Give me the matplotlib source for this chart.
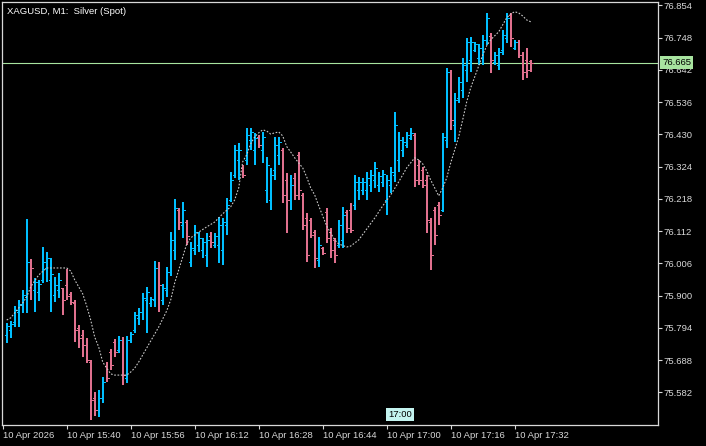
import matplotlib
matplotlib.use('Agg')
import matplotlib.pyplot as plt
import matplotlib.transforms as mtransforms
import numpy as np

plt.rcParams['font.family'] = ['Liberation Sans', 'DejaVu Sans']

# ---------------- data (XAGUSD M1, 15:25 .. 17:36) ----------------
opens = [75.771, 75.787, 75.814, 75.846, 75.869, 75.896, 76.011, 75.919, 75.912, 75.952,
         75.991, 75.952, 75.902, 75.919, 75.925, 75.935, 75.906, 75.876, 75.794, 75.771,
         75.738, 75.682, 75.564, 75.524, 75.564, 75.669, 75.715, 75.748, 75.722, 75.754,
         75.630, 75.754, 75.787, 75.827, 75.846, 75.886, 75.876, 75.886, 75.991, 75.886,
         75.919, 75.978, 76.050, 76.182, 76.132, 76.142, 76.011, 76.050, 76.067, 76.050,
         76.034, 76.096, 76.067, 76.067, 76.050, 76.132, 76.215, 76.297, 76.346, 76.320,
         76.346, 76.412, 76.379, 76.422, 76.379, 76.247, 76.215, 76.313, 76.363, 76.379,
         76.280, 76.215, 76.287, 76.363, 76.231, 76.155, 76.149, 76.109, 76.017, 76.057,
         76.175, 76.109, 76.083, 76.067, 76.083, 76.175, 76.182, 76.198, 76.247, 76.247,
         76.247, 76.264, 76.280, 76.264, 76.274, 76.215, 76.264, 76.297, 76.346, 76.379,
         76.395, 76.418, 76.428, 76.330, 76.313, 76.280, 76.142, 76.182, 76.198, 76.182,
         76.412, 76.635, 76.461, 76.550, 76.576, 76.642, 76.675, 76.708, 76.681, 76.681,
         76.741, 76.754, 76.668, 76.658, 76.708, 76.747, 76.823, 76.714, 76.734, 76.691,
         76.675, 76.671]
highs = [75.810, 75.817, 75.866, 75.886, 75.919, 76.152, 76.021, 75.958, 75.952, 76.060,
         76.044, 76.024, 75.962, 75.975, 75.925, 75.988, 75.912, 75.886, 75.804, 75.787,
         75.761, 75.689, 75.583, 75.590, 75.633, 75.682, 75.725, 75.758, 75.768, 75.764,
         75.768, 75.781, 75.846, 75.860, 75.909, 75.929, 75.896, 76.014, 76.011, 75.938,
         75.994, 76.109, 76.218, 76.188, 76.208, 76.149, 76.077, 76.132, 76.109, 76.090,
         76.106, 76.109, 76.106, 76.159, 76.155, 76.221, 76.307, 76.395, 76.402, 76.330,
         76.451, 76.451, 76.435, 76.428, 76.438, 76.356, 76.320, 76.422, 76.422, 76.386,
         76.303, 76.297, 76.303, 76.372, 76.238, 76.172, 76.155, 76.116, 76.093, 76.060,
         76.188, 76.123, 76.090, 76.149, 76.192, 76.182, 76.205, 76.297, 76.290, 76.287,
         76.307, 76.313, 76.340, 76.307, 76.313, 76.297, 76.323, 76.504, 76.438, 76.422,
         76.438, 76.451, 76.435, 76.346, 76.323, 76.297, 76.155, 76.192, 76.208, 76.435,
         76.648, 76.642, 76.566, 76.619, 76.681, 76.747, 76.750, 76.734, 76.727, 76.757,
         76.829, 76.764, 76.701, 76.714, 76.773, 76.829, 76.829, 76.741, 76.741, 76.701,
         76.714, 76.675]
lows = [75.745, 75.761, 75.797, 75.797, 75.843, 75.843, 75.886, 75.846, 75.883, 75.942,
        75.945, 75.846, 75.879, 75.892, 75.837, 75.886, 75.869, 75.748, 75.728, 75.699,
        75.679, 75.491, 75.505, 75.501, 75.547, 75.616, 75.656, 75.699, 75.712, 75.607,
        75.613, 75.745, 75.777, 75.804, 75.820, 75.777, 75.863, 75.863, 75.846, 75.869,
        75.896, 75.965, 76.017, 76.116, 76.090, 76.067, 75.994, 76.034, 76.044, 76.024,
        75.994, 76.057, 76.057, 76.008, 76.001, 76.100, 76.208, 76.287, 76.280, 76.287,
        76.330, 76.379, 76.330, 76.386, 76.336, 76.205, 76.182, 76.280, 76.330, 76.205,
        76.106, 76.182, 76.215, 76.215, 76.116, 76.011, 76.090, 75.991, 75.994, 76.034,
        76.073, 76.024, 76.008, 76.057, 76.057, 76.106, 76.106, 76.182, 76.215, 76.231,
        76.215, 76.241, 76.254, 76.241, 76.257, 76.165, 76.238, 76.274, 76.307, 76.356,
        76.386, 76.412, 76.257, 76.264, 76.254, 76.106, 75.985, 76.067, 76.132, 76.175,
        76.386, 76.445, 76.405, 76.533, 76.550, 76.602, 76.635, 76.701, 76.658, 76.658,
        76.724, 76.632, 76.658, 76.642, 76.691, 76.731, 76.718, 76.708, 76.681, 76.609,
        76.616, 76.635]
closes = [75.800, 75.807, 75.853, 75.873, 75.902, 76.011, 75.991, 75.945, 75.938, 76.011,
          76.024, 75.971, 75.935, 75.952, 75.886, 75.899, 75.879, 75.787, 75.761, 75.738,
          75.689, 75.557, 75.524, 75.564, 75.616, 75.630, 75.672, 75.715, 75.754, 75.639,
          75.754, 75.774, 75.837, 75.846, 75.892, 75.912, 75.889, 75.991, 75.935, 75.925,
          75.978, 76.083, 76.188, 76.142, 76.182, 76.096, 76.057, 76.109, 76.090, 76.077,
          76.083, 76.077, 76.096, 76.132, 76.142, 76.198, 76.280, 76.379, 76.379, 76.297,
          76.428, 76.438, 76.418, 76.395, 76.422, 76.330, 76.297, 76.395, 76.405, 76.231,
          76.215, 76.264, 76.231, 76.247, 76.132, 76.034, 76.100, 76.024, 76.067, 76.040,
          76.090, 76.050, 76.034, 76.132, 76.165, 76.123, 76.116, 76.274, 76.274, 76.274,
          76.287, 76.297, 76.320, 76.293, 76.300, 76.280, 76.307, 76.461, 76.412, 76.405,
          76.428, 76.435, 76.280, 76.280, 76.264, 76.149, 76.034, 76.100, 76.165, 76.422,
          76.635, 76.478, 76.543, 76.602, 76.658, 76.734, 76.734, 76.727, 76.714, 76.741,
          76.813, 76.675, 76.691, 76.701, 76.757, 76.813, 76.747, 76.734, 76.691, 76.635,
          76.642, 76.665]

# moving average (bar index -> value)
ma_bars = [0, 1, 4, 5, 6, 8, 10, 12, 15, 16, 17, 19, 20, 21, 22, 23, 24, 25, 26, 27,
           30, 31, 32, 33, 35, 36, 38, 40, 41, 42, 44, 45, 46, 48, 50, 52, 54, 56, 57, 58,
           59, 60, 61, 62, 63, 64, 65, 66, 67, 68, 69, 70, 71, 72, 73, 74, 75, 76, 77, 78,
           79, 80, 81, 82, 83, 85, 86, 87, 88, 90, 92, 94, 96, 98, 100, 102, 103, 104, 105, 106,
           107, 108, 109, 110, 111, 112, 113, 114, 115, 116, 117, 118, 119, 120, 121, 122, 123, 124, 125, 126,
           127, 128, 129, 130, 131]
ma_vals = [75.820, 75.827, 75.876, 75.896, 75.929, 75.968, 75.991, 75.991, 75.991, 75.981,
           75.952, 75.906, 75.866, 75.820, 75.764, 75.731, 75.682, 75.662, 75.643, 75.639,
           75.639, 75.649, 75.662, 75.682, 75.728, 75.751, 75.797, 75.850, 75.886, 75.942,
           76.027, 76.070, 76.090, 76.109, 76.126, 76.142, 76.169, 76.192, 76.215, 76.254,
           76.340, 76.363, 76.399, 76.422, 76.435, 76.445, 76.441, 76.431, 76.435, 76.438,
           76.425, 76.390, 76.372, 76.353, 76.336, 76.320, 76.290, 76.254, 76.231, 76.195,
           76.162, 76.129, 76.106, 76.083, 76.070, 76.060, 76.063, 76.073, 76.083, 76.119,
           76.155, 76.195, 76.231, 76.274, 76.320, 76.353, 76.346, 76.333, 76.310, 76.280,
           76.254, 76.228, 76.254, 76.287, 76.336, 76.379, 76.422, 76.478, 76.537, 76.583,
           76.619, 76.655, 76.691, 76.721, 76.741, 76.754, 76.767, 76.790, 76.813, 76.826,
           76.833, 76.829, 76.819, 76.806, 76.800]

price_ticks = [76.854, 76.748, 76.642, 76.536, 76.430, 76.324, 76.218,
               76.112, 76.006, 75.900, 75.794, 75.688, 75.582]
time_ticks = [0, 16, 32, 48, 64, 80, 96, 112, 128]   # minutes after 15:24
time_labels = ['10 Apr 2026', '10 Apr 15:40', '10 Apr 15:56', '10 Apr 16:12',
               '10 Apr 16:28', '10 Apr 16:44', '10 Apr 17:00', '10 Apr 17:16',
               '10 Apr 17:32']
bid = 76.665

# ---------------- plot ----------------
W, H = 706, 446
BULL = '#00BFFF'
BEAR = '#E0708E'
FG = '#d8d8d8'
FS = 6.8

o = np.array(opens); h = np.array(highs); l = np.array(lows); c = np.array(closes)
x = np.arange(len(c)) + 1
cols = np.where(c >= o, BULL, BEAR)

fig = plt.figure(figsize=(W / 100, H / 100), dpi=100, facecolor='black')
ax = fig.add_axes([2 / W, (H - 425) / H, 656 / W, 423 / H])
ax.set_facecolor('black')

# bars: crisp 2px stems, 1px open/close ticks
ax.vlines(x, l, h, colors=cols, lw=1.44, antialiased=False, zorder=3)
ax.hlines(o, x - 0.5, x, colors=cols, lw=0.72, antialiased=False, zorder=3)
ax.hlines(c, x, x + 0.5, colors=cols, lw=0.72, antialiased=False, zorder=3)

ax.plot(np.array(ma_bars) + 1, ma_vals, color='#c8c8c8', lw=0.8, dashes=(1.5, 1.5), zorder=4)
ax.axhline(bid, color='#a8e4a0', lw=0.8, zorder=2)

ax.set_xlim(-0.175, 163.825)
ax.set_ylim(75.475, 76.865)

for s in ax.spines.values():
    s.set_color(FG)
    s.set_linewidth(0.9)

ax.yaxis.tick_right()
ax.set_yticks(price_ticks)
ax.set_yticklabels([f'{p:.3f}' for p in price_ticks])
ax.tick_params(axis='y', colors=FG, length=3, width=0.8, pad=1, labelsize=FS, labelcolor=FG)
ax.set_xticks(time_ticks)
ax.set_xticklabels(time_labels, ha='left')
ax.tick_params(axis='x', colors=FG, length=3, width=0.8, pad=1.5, labelsize=FS, labelcolor=FG)

# symbol caption
fig.text(7 / W, 1 - 11 / H, 'XAGUSD, M1:  Silver (Spot)', color='white', fontsize=FS, va='center')

# bid price label on the price scale
tr = mtransforms.blended_transform_factory(ax.transAxes, ax.transData)
ax.text(1 + 4 / 656, bid, f'{bid:.3f}', transform=tr, color='black', fontsize=FS,
        va='center', ha='left', clip_on=False, zorder=10,
        bbox=dict(boxstyle='square,pad=0.2', fc='#a8e4a0', ec='none'))

# time label marker at 17:00
tr2 = mtransforms.blended_transform_factory(ax.transData, ax.transAxes)
ax.text(96.3, 0.014, '17:00', transform=tr2, color='black', fontsize=FS,
        va='bottom', ha='left', zorder=10,
        bbox=dict(boxstyle='square,pad=0.2', fc='#c4f4f0', ec='none'))

fig.savefig('out.png', dpi=100, facecolor='black')
